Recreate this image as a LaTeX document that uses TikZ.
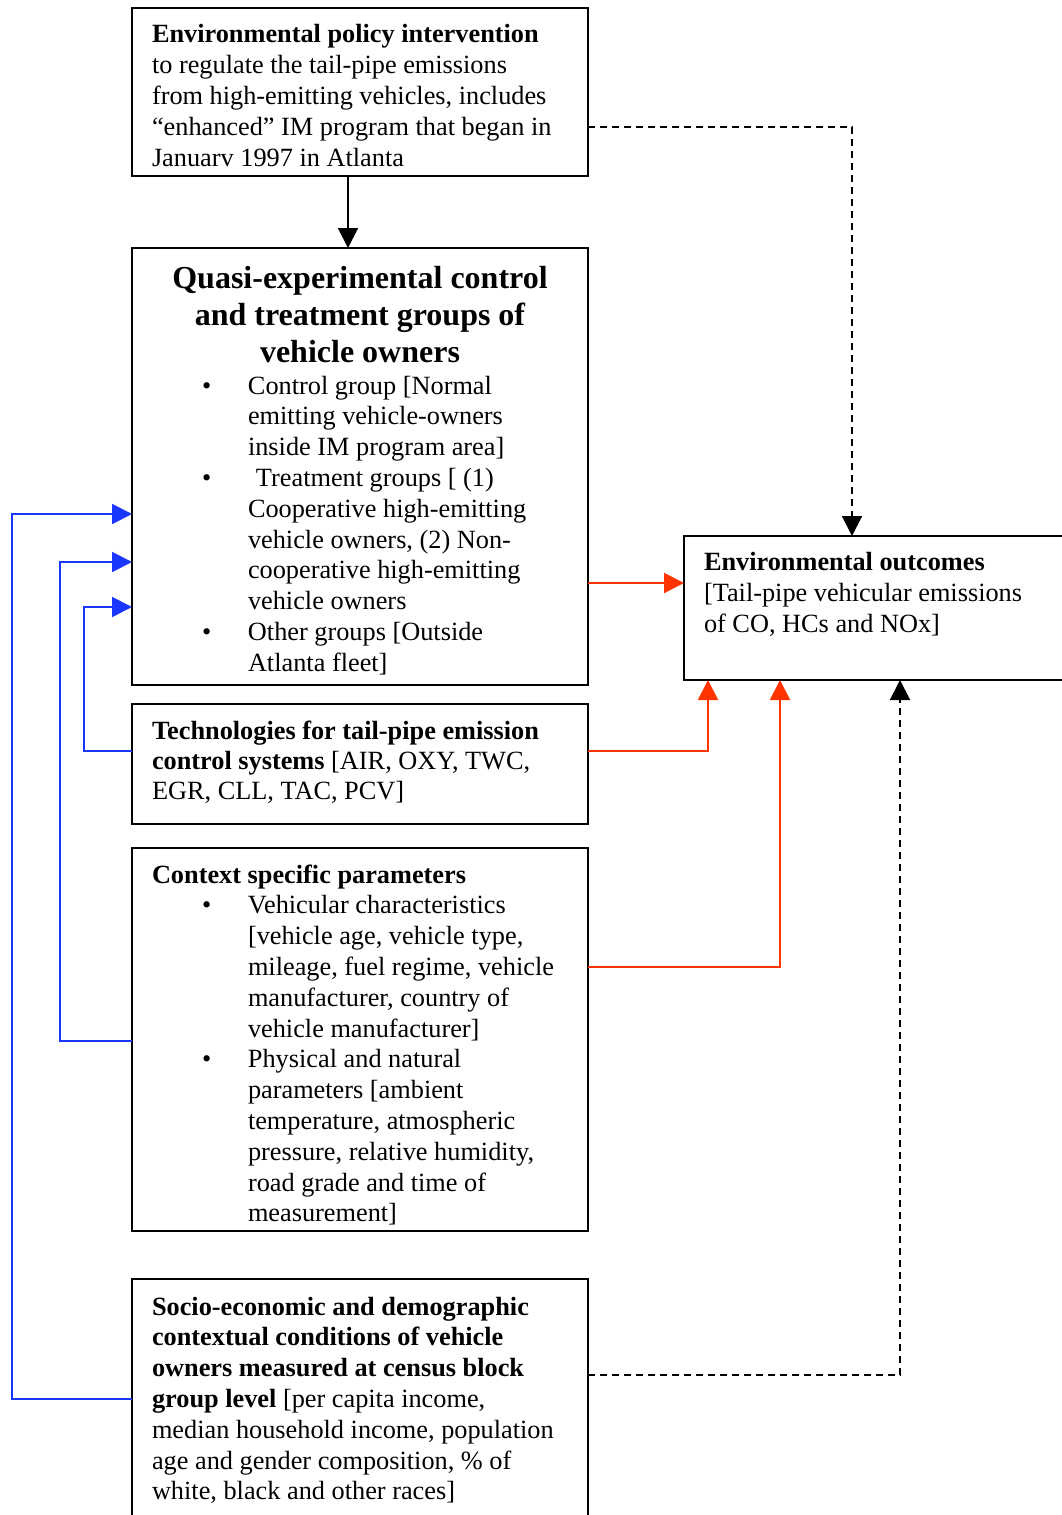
\documentclass[tikz,border=0pt]{standalone}
\usepackage{fontspec}
\setmainfont{Liberation Serif}
\usetikzlibrary{arrows.meta}

\definecolor{linkred}{RGB}{255,51,0}
\definecolor{linkblue}{RGB}{25,55,255}

\newcommand\bodyfont{\fontsize{26.3}{30.8}\selectfont}
\newcommand\headfont{\fontsize{32}{37}\selectfont\bfseries}
\newcommand\firstline{\rule{0pt}{22pt}}
\newcommand\bul{\makebox[46pt][l]{\textbullet}}
\newcommand\ind{\hspace*{46pt}}

\tikzset{
  box/.style={draw, line width=2pt, rectangle, inner sep=0pt, outer sep=0pt, anchor=north west},
  txt/.style={anchor=north west, inner sep=0pt, outer sep=0pt, align=left, font=\bodyfont},
  tip/.style={-{Triangle[length=20pt,width=20pt]}},
  link/.style={tip, line width=2pt},
  redlink/.style={link, draw=linkred, -{Triangle[length=20pt,width=20pt,color=linkred]}},
  bluelink/.style={link, draw=linkblue, -{Triangle[length=20pt,width=20pt,color=linkblue]}},
  dashlink/.style={link, dash pattern=on 7pt off 5pt},
}

\begin{document}
\begin{tikzpicture}[x=1pt, y=-1pt]
\useasboundingbox (0,0) rectangle (1062,1515);

% boxes
\node[box, minimum width=456pt, minimum height=168pt] (policy)  at (132,8)    {};
\node[box, minimum width=456pt, minimum height=437pt] (quasi)   at (132,248)  {};
\node[box, minimum width=456pt, minimum height=120pt] (tech)    at (132,704)  {};
\node[box, minimum width=456pt, minimum height=383pt] (context) at (132,848)  {};
\node[box, minimum width=456pt, minimum height=260pt] (socio)   at (132,1279) {};
\node[box, minimum width=400pt, minimum height=144pt] (outcome) at (684,536)  {};

% texts
\node[txt, font=\fontsize{26.3}{31}\selectfont] (policytext) at (152,20.5) {\firstline\textbf{Environmental policy intervention}\\
to regulate the tail-pipe emissions\\
from high-emitting vehicles, includes\\
“enhanced” IM program that began in\\
Januarv 1997 in Atlanta};

\node[anchor=north, inner sep=0pt, align=center, font=\headfont] (quasititle) at (360,261)
  {\rule{0pt}{27pt}Quasi-experimental control\\ and treatment groups of\\ vehicle owners};

\node[txt] (quasilist) at (202,372) {\firstline\bul Control group [Normal\\
\ind emitting vehicle-owners\\
\ind inside IM program area]\\
\makebox[54pt][l]{\textbullet}Treatment groups [ (1)\\
\ind Cooperative high-emitting\\
\ind vehicle owners, (2) Non-\\
\ind cooperative high-emitting\\
\ind vehicle owners\\
\bul Other groups [Outside\\
\ind Atlanta fleet]};

\node[txt, font=\fontsize{26.3}{30}\selectfont] (techtext) at (152,717) {\firstline\textbf{Technologies for tail-pipe emission}\\
\textbf{control systems} [AIR, OXY, TWC,\\
EGR, CLL, TAC, PCV]};

\node[txt] (contexttext) at (152,861) {\firstline\textbf{Context specific parameters}\\
\hspace*{50pt}\makebox[46pt][l]{\textbullet}Vehicular characteristics\\
\hspace*{96pt}[vehicle age, vehicle type,\\
\hspace*{96pt}mileage, fuel regime, vehicle\\
\hspace*{96pt}manufacturer, country of\\
\hspace*{96pt}vehicle manufacturer]\\
\hspace*{50pt}\makebox[46pt][l]{\textbullet}Physical and natural\\
\hspace*{96pt}parameters [ambient\\
\hspace*{96pt}temperature, atmospheric\\
\hspace*{96pt}pressure, relative humidity,\\
\hspace*{96pt}road grade and time of\\
\hspace*{96pt}measurement]};

\node[txt] (sociotext) at (152,1293) {\firstline\textbf{Socio-economic and demographic}\\
\textbf{contextual conditions of vehicle}\\
\textbf{owners measured at census block}\\
\textbf{group level} [per capita income,\\
median household income, population\\
age and gender composition, \% of\\
white, black and other races]};

\node[txt, font=\fontsize{26.3}{31}\selectfont] (outcometext) at (704,548) {\firstline\textbf{Environmental outcomes}\\
{[}Tail-pipe vehicular emissions\\
of CO, HCs and NOx]};

% connectors
\draw[link] ([xshift=-12pt]policy.south) -- ([xshift=-12pt]quasi.north);
\draw[dashlink] (policy.east |- 0,127) -| (outcome.north -| 852,0);

\draw[redlink] (quasi.east |- 0,583) -- (outcome.west |- 0,583);
\draw[redlink] (tech.east |- 0,751) -| (outcome.south -| 708,0);
\draw[redlink] (context.east |- 0,967) -| (outcome.south -| 780,0);
\draw[dashlink] (socio.east |- 0,1375) -| (outcome.south -| 900,0);

\draw[bluelink] (socio.west |- 0,1399) -| (12,514) -- (quasi.west |- 0,514);
\draw[bluelink] (context.west |- 0,1041) -| (60,562) -- (quasi.west |- 0,562);
\draw[bluelink] (tech.west |- 0,751) -| (84,607) -- (quasi.west |- 0,607);
\end{tikzpicture}
\end{document}
